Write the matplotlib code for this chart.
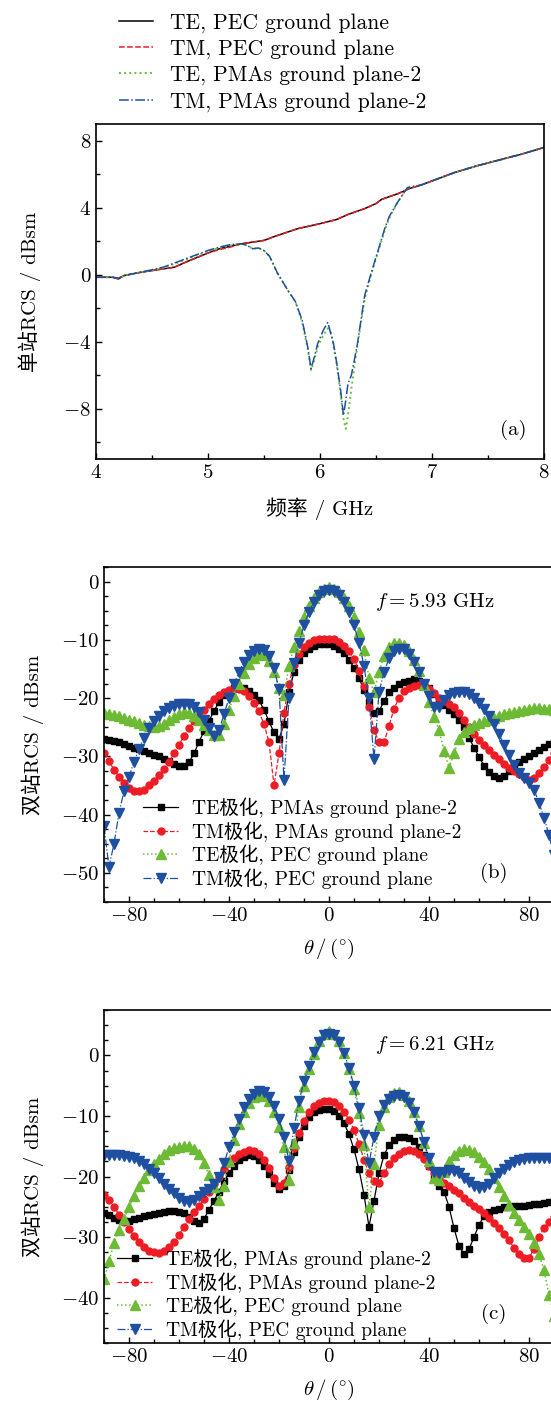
import numpy as np
import matplotlib
matplotlib.use('Agg')
import matplotlib.pyplot as plt
from matplotlib.ticker import MultipleLocator

plt.rcParams['font.family'] = ['cmr10', 'Noto Sans CJK SC']
plt.rcParams['mathtext.fontset'] = 'cm'
plt.rcParams['axes.formatter.use_mathtext'] = True
plt.rcParams['axes.unicode_minus'] = True

# ---- panel (a): monostatic RCS vs frequency ----
freq_pec = [4.0, 4.1, 4.15, 4.2, 4.25, 4.4, 4.6, 4.7, 4.8, 5.0, 5.1, 5.2, 5.3, 5.4, 5.5, 5.6,
            5.8, 6.0, 6.15, 6.25, 6.4, 6.5, 6.55, 6.7, 6.8, 6.9, 7.0, 7.2, 7.4, 7.6, 7.8, 8.0]
te_pec = [-0.15, -0.15, -0.15, -0.25, -0.05, 0.15, 0.35, 0.45, 0.75, 1.3, 1.55, 1.7, 1.85, 1.95, 2.05, 2.3,
          2.75, 3.05, 3.3, 3.6, 3.95, 4.25, 4.5, 4.85, 5.15, 5.35, 5.6, 6.1, 6.5, 6.85, 7.2, 7.6]
tm_pec = [-0.15, -0.15, -0.15, -0.25, -0.05, 0.15, 0.35, 0.45, 0.75, 1.3, 1.5, 1.65, 1.85, 1.95, 2.05, 2.3,
          2.75, 3.05, 3.3, 3.6, 3.95, 4.25, 4.5, 4.85, 5.15, 5.35, 5.6, 6.1, 6.5, 6.85, 7.2, 7.6]

freq_pmas = [4.0, 4.15, 4.2, 4.25, 4.4, 4.6, 4.8, 5.0, 5.1, 5.2, 5.3, 5.35, 5.4, 5.45, 5.5, 5.55,
             5.62, 5.71, 5.78, 5.84, 5.89, 5.92, 5.95, 5.98, 6.03, 6.07, 6.1, 6.12, 6.15, 6.18,
             6.21, 6.23, 6.25, 6.28, 6.33, 6.4, 6.47, 6.53, 6.58, 6.62, 6.69, 6.78, 6.9, 7.0,
             7.2, 7.4, 7.6, 7.8, 8.0]
te_pmas = [-0.15, -0.15, -0.2, -0.05, 0.15, 0.4, 0.9, 1.4, 1.6, 1.75, 1.85, 1.75, 1.55, 1.6, 1.45, 1.1,
           0.1, -0.9, -1.6, -2.8, -4.4, -5.7, -5.1, -4.3, -3.6, -3.2, -3.5, -4.2, -5.4, -6.9,
           -8.6, -9.2, -8.4, -6.8, -4.4, -1.4, 0.3, 1.6, 2.7, 3.4, 4.3, 5.2, 5.35, 5.6,
           6.1, 6.5, 6.85, 7.2, 7.6]
tm_pmas = [-0.15, -0.15, -0.2, -0.05, 0.15, 0.45, 0.95, 1.45, 1.65, 1.8, 1.85, 1.75, 1.55, 1.6, 1.45, 1.1,
           0.1, -0.9, -1.6, -2.7, -4.3, -5.6, -4.9, -4.1, -3.3, -2.85, -3.6, -4.1, -5.3, -6.7,
           -8.4, -7.5, -6.5, -6.0, -4.3, -1.2, 0.4, 1.7, 2.8, 3.5, 4.3, 5.2, 5.35, 5.6,
           6.1, 6.5, 6.85, 7.2, 7.6]

# ---- panels (b), (c): bistatic RCS vs theta (every 2 degrees) ----
theta = np.arange(-90, 91, 2)

b_te_pmas = [-27, -27.2, -27.4, -27.6, -27.9, -28.2, -28.5, -28.8, -29.1, -29.4,
             -29.7, -30, -30.4, -30.8, -31.3, -31.6, -31.7, -31, -29.5, -27.5,
             -25.7, -23.9, -22.2, -20.7, -19.5, -18.7, -18.3, -18.2, -18.3, -18.7,
             -19.4, -20.4, -22, -24, -25.9, -27, -24.5, -19, -15.5, -13.5,
             -12.3, -11.5, -11.1, -10.8, -10.7, -10.8, -11, -11.5, -12.3, -13.4,
             -14.8, -16.5, -18.6, -20.7, -22.5, -22.3, -20.5, -19, -18.2, -17.6,
             -17.2, -17, -16.8, -17, -17.5, -18.3, -19.3, -20.3, -21.2, -22,
             -22.8, -23.8, -25, -26.8, -28.5, -30.1, -31.6, -32.7, -33.4, -33.7,
             -33.3, -32.6, -31.8, -31, -30.4, -29.9, -29.4, -28.9, -28.4, -27.9,
             -27.5]
b_tm_pmas = [-29.5, -30.8, -32.3, -33.5, -34.6, -35.4, -35.9, -36, -35.7, -35,
             -34.2, -33.2, -32.2, -31, -29.5, -28, -26.5, -25.2, -24, -23,
             -22, -21, -20.1, -19.4, -18.9, -18.6, -18.5, -18.5, -18.8, -19.6,
             -20.8, -22.3, -24.5, -27.5, -35, -29.5, -22.5, -17.5, -14.3, -12.5,
             -11.3, -10.6, -10.1, -9.9, -9.8, -9.8, -9.9, -10.3, -11, -12,
             -13.3, -15.3, -18, -21.5, -25.5, -27.5, -27.6, -24.8, -21.8, -20,
             -18.8, -18.2, -17.9, -17.8, -17.8, -18.4, -19.2, -20, -20.5, -21,
             -21.6, -22.5, -23.7, -25, -26.2, -27.2, -28.1, -28.9, -29.7, -30.5,
             -31.3, -32, -32.6, -33.1, -33.6, -34, -33.7, -32.9, -31.8, -30.6,
             -29.4]
b_te_pec = [-22.5, -22.7, -22.9, -23.1, -23.4, -23.7, -24, -24.3, -24.6, -24.8,
            -24.9, -24.8, -24.4, -23.8, -23.2, -22.7, -22.4, -22.5, -23, -23.7,
            -24.6, -25.5, -26.4, -26.3, -24.5, -22, -19.7, -17.6, -15.7, -14.2,
            -13.1, -12.4, -12.6, -13.6, -15.5, -18.2, -19.5, -14.5, -11.2, -8.4,
            -6, -4.2, -2.8, -1.8, -1.2, -0.9, -1.2, -1.8, -2.8, -4.2,
            -6.1, -8.6, -11.8, -16.5, -19, -15.5, -12.8, -11.3, -10.6, -10.5,
            -10.9, -11.9, -13.4, -15.4, -17.8, -20.6, -23.2, -25.5, -29, -32,
            -29.5, -27, -25.8, -25.2, -24.7, -24.3, -24, -23.7, -23.4, -23.1,
            -22.8, -22.6, -22.4, -22.2, -22, -21.8, -21.7, -21.7, -21.8, -21.9,
            -22]
b_tm_pec = [-42, -49, -45, -39.7, -36, -33.5, -31, -28.7, -26.8, -25.2,
            -24, -23, -22.2, -21.7, -21.3, -21.1, -21, -21.1, -21.5, -22.4,
            -23.7, -25.2, -26.5, -25.5, -22.8, -20, -17.6, -15.5, -13.8, -12.6,
            -11.9, -11.5, -11.8, -12.8, -14.8, -18.5, -34, -20, -14, -10.5,
            -7.5, -5.2, -3.5, -2.3, -1.6, -1.4, -1.6, -2.3, -3.5, -5.2,
            -7.5, -10.5, -14.5, -20, -30.5, -19, -15.5, -13.2, -11.9, -11.5,
            -11.6, -12.4, -13.8, -15.5, -17.5, -19.6, -21.6, -21.5, -20.3, -19.5,
            -19.1, -19, -19, -19.3, -20, -20.8, -21.8, -23, -24.5, -26.2,
            -28, -29.8, -31.5, -32.8, -33.8, -34.5, -35.7, -38, -40.5, -43.5,
            -47]

c_te_pmas = [-26, -26.3, -26.8, -27.2, -27.4, -27.3, -27.1, -26.8, -26.6, -26.4,
             -26.2, -26, -25.8, -25.7, -25.7, -25.8, -26.1, -26.7, -27.3, -27.6,
             -27, -25.5, -24, -22.5, -20.8, -19.5, -18.2, -17.3, -16.8, -16.5,
             -16.6, -17.2, -18.3, -19.6, -21, -22, -21.5, -19, -16, -13.5,
             -11.6, -10.2, -9.4, -9, -8.8, -8.9, -9.2, -10, -11.2, -13,
             -15.5, -18.8, -23, -28.3, -24, -19.5, -16.5, -14.8, -14, -13.5,
             -13.4, -13.6, -14.2, -15.2, -16.5, -18.2, -20, -21.5, -22.5, -25,
             -28.5, -31.5, -32.8, -32, -30, -28, -26.5, -25.9, -25.6, -25.3,
             -25.1, -25, -24.9, -24.9, -24.8, -24.7, -24.6, -24.5, -24.4, -24.2,
             -24]
c_tm_pmas = [-23, -23.8, -25, -26.3, -27.5, -28.7, -29.8, -30.8, -31.7, -32.3,
             -32.5, -32.6, -32.3, -31.7, -30.8, -29.6, -28.3, -27, -25.8, -24.8,
             -23.7, -22.5, -21.2, -20, -18.7, -17.7, -16.9, -16.3, -15.9, -15.7,
             -15.8, -16.3, -17.2, -18.6, -20.3, -21.5, -21, -18.5, -15.3, -12.8,
             -10.9, -9.4, -8.4, -7.8, -7.5, -7.5, -7.7, -8.3, -9.3, -10.6,
             -12.3, -14.6, -17.2, -19.5, -20.8, -21, -19.5, -18, -17, -16.3,
             -15.8, -15.6, -15.8, -16.3, -17.1, -18.2, -19.4, -20.3, -21, -21.6,
             -22.2, -22.8, -23.5, -24.2, -24.8, -25.3, -26, -26.8, -27.6, -28.5,
             -29.5, -30.5, -31.8, -32.8, -33.5, -33.4, -32, -30, -28.5, -27.5,
             -26.7]
c_te_pec = [-37, -34, -31, -28.8, -27, -25, -23.2, -21.6, -20.2, -19,
            -18, -17.1, -16.3, -15.7, -15.3, -15.1, -15, -15, -15.4, -16.3,
            -17.8, -19.7, -21.8, -23.8, -21.5, -17.5, -14, -11.3, -9.3, -7.8,
            -6.9, -6.5, -6.7, -7.6, -9.3, -11.8, -15.2, -20.5, -14.5, -8.5,
            -5, -2.2, 0.3, 2.3, 3.5, 4, 3.6, 2.4, 0.4, -2.3,
            -5.5, -9.5, -14.8, -25, -18, -11.5, -8.5, -6.9, -6.2, -6.1,
            -6.5, -7.6, -9.4, -11.7, -14.5, -17.5, -20.2, -20.6, -19.3, -17.5,
            -16.4, -15.8, -15.5, -15.6, -16, -16.7, -17.6, -18.8, -20.2, -21.8,
            -23.3, -24.7, -26, -27.2, -28.3, -29.5, -31, -32.8, -35.5, -39.5,
            -43]
c_tm_pec = [-16.5, -16.5, -16.5, -16.5, -16.6, -16.7, -17, -17.4, -18, -18.7,
            -19.5, -20.3, -21.2, -22, -22.8, -23.5, -24, -24.2, -23.9, -23.3,
            -22.6, -22, -21.2, -20, -17.8, -15.2, -12.7, -10.5, -8.6, -7.2,
            -6.3, -5.9, -6, -6.8, -8.3, -10.5, -13.5, -17.4, -12, -7.5,
            -4.3, -1.8, 0.5, 2.2, 3.3, 3.6, 3.3, 2.2, 0.4, -2,
            -5, -8.7, -13.2, -17.8, -13.5, -10, -8.2, -7.2, -6.7, -6.6,
            -6.9, -7.8, -9.4, -11.6, -14.3, -17, -19.2, -19.5, -19.2, -19,
            -19.1, -19.5, -20.2, -20.9, -21.5, -21.9, -21.8, -21.2, -20.3, -19.5,
            -18.8, -18.1, -17.6, -17.3, -17.1, -17, -16.9, -16.9, -16.9, -16.9,
            -17]

labels_a = ['TE, PEC ground plane', 'TM, PEC ground plane',
            'TE, PMAs ground plane-2', 'TM, PMAs ground plane-2']
labels_bc = ['TE极化, PMAs ground plane-2', 'TM极化, PMAs ground plane-2',
             'TE极化, PEC ground plane', 'TM极化, PEC ground plane']

BLACK, RED, GREEN, BLUE = '#000000', '#ee1c24', '#6dbb35', '#1f4fa0'
FS = 15


def style_axes(ax):
    for s in ax.spines.values():
        s.set_linewidth(1.2)
    ax.tick_params(which='both', direction='in', top=False, right=False,
                   labelsize=FS, width=1.0)
    ax.tick_params(which='major', length=4.5)
    ax.tick_params(which='minor', length=3)


fig = plt.figure(figsize=(5.51, 14.07), dpi=100)
W, H = 551.0, 1407.0

# panel (a)
ax = fig.add_axes([96 / W, 1 - 459 / H, 448 / W, 335 / H])
la = []
la += ax.plot(freq_pec, te_pec, '-', color=BLACK, lw=1.1)
la += ax.plot(freq_pec, tm_pec, '--', color=RED, lw=1.1)
la += ax.plot(freq_pmas, te_pmas, ':', color=GREEN, lw=1.4)
la += ax.plot(freq_pmas, tm_pmas, '-.', color=BLUE, lw=1.1)
ax.set_xlim(4, 8)
ax.set_ylim(-11, 9)
ax.xaxis.set_major_locator(MultipleLocator(1))
ax.xaxis.set_minor_locator(MultipleLocator(0.5))
ax.yaxis.set_major_locator(MultipleLocator(4))
ax.yaxis.set_minor_locator(MultipleLocator(2))
style_axes(ax)
ax.set_xlabel('频率 / GHz', fontsize=FS, labelpad=11)
ax.set_ylabel('单站RCS / dBsm', fontsize=FS, labelpad=16)
ax.text(0.931, 0.087, '(a)', transform=ax.transAxes, ha='center', va='center', fontsize=FS)
fig.legend(la, labels_a, loc='upper left', bbox_to_anchor=(108 / W, 1 - 2 / H),
           frameon=False, fontsize=15.5, handlelength=1.6, handletextpad=0.8,
           labelspacing=0.3, borderpad=0)

# panels (b), (c)
panels = [
    ('b', 1 - 902 / H, 335 / H, (-55, 2.5), 10, '5.93',
     [b_te_pmas, b_tm_pmas, b_te_pec, b_tm_pec], (0.087, 0.04)),
    ('c', 1 - 1343 / H, 333 / H, (-47.5, 7.5), 10, '6.21',
     [c_te_pmas, c_tm_pmas, c_te_pec, c_tm_pec], (0.029, 0.01)),
]
for tag, bottom, height, ylim, ystep, fval, series, legpos in panels:
    ax = fig.add_axes([104 / W, bottom, 450 / W, height])
    te_p, tm_p, te_e, tm_e = series
    hs = []
    hs += ax.plot(theta, te_p, '-', color=BLACK, lw=0.9, marker='s', ms=4,
                  mec=BLACK, mfc=BLACK)
    hs += ax.plot(theta, tm_p, '--', color=RED, lw=0.9, marker='o', ms=5,
                  mec=RED, mfc=RED)
    hs += ax.plot(theta, te_e, ':', color=GREEN, lw=1.1, marker='^', ms=6.5,
                  mec=GREEN, mfc=GREEN)
    hs += ax.plot(theta, tm_e, '-.', color=BLUE, lw=0.9, marker='v', ms=6.5,
                  mec=BLUE, mfc=BLUE)
    ax.set_xlim(-90, 90)
    ax.set_ylim(*ylim)
    ax.xaxis.set_major_locator(MultipleLocator(40))
    ax.xaxis.set_minor_locator(MultipleLocator(10))
    ax.yaxis.set_major_locator(MultipleLocator(ystep))
    ax.yaxis.set_minor_locator(MultipleLocator(2.5))
    style_axes(ax)
    ax.set_xlabel(r'$\theta\,/\,(^{\circ})$', fontsize=FS, labelpad=9)
    ax.set_ylabel('双站RCS / dBsm', fontsize=FS, labelpad=12)
    ax.text(0.735, 0.895, r'$f=$' + fval + ' GHz', transform=ax.transAxes,
            ha='center', va='center', fontsize=FS)
    ax.text(0.866, 0.086, '(' + tag + ')', transform=ax.transAxes,
            ha='center', va='center', fontsize=FS)
    ax.legend(hs, labels_bc, loc='lower left', bbox_to_anchor=legpos,
              frameon=False, fontsize=FS - 1, handlelength=1.8, handletextpad=0.7,
              labelspacing=0.15, borderpad=0, borderaxespad=0)

fig.savefig('out.png', dpi=100)
